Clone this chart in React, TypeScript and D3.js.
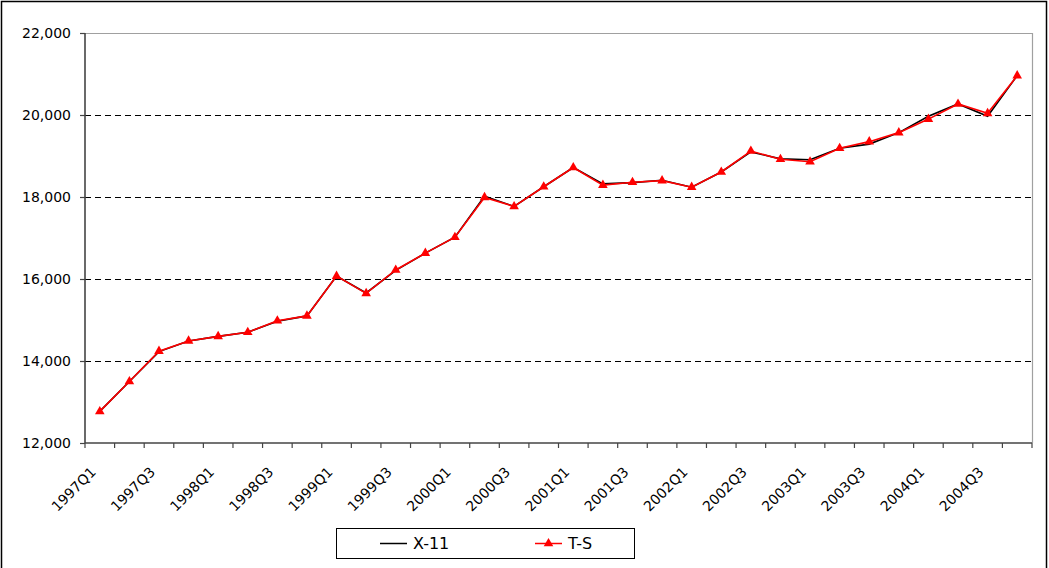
import { useRef, useEffect } from "react";
import * as d3 from "d3";

const quarters = [
  "1997Q1", "1997Q2", "1997Q3", "1997Q4",
  "1998Q1", "1998Q2", "1998Q3", "1998Q4",
  "1999Q1", "1999Q2", "1999Q3", "1999Q4",
  "2000Q1", "2000Q2", "2000Q3", "2000Q4",
  "2001Q1", "2001Q2", "2001Q3", "2001Q4",
  "2002Q1", "2002Q2", "2002Q3", "2002Q4",
  "2003Q1", "2003Q2", "2003Q3", "2003Q4",
  "2004Q1", "2004Q2", "2004Q3", "2004Q4",
];

const x11Values = [
  12770, 13500, 14230, 14490, 14600, 14700, 14970, 15100,
  16070, 15660, 16210, 16630, 17020, 18020, 17770, 18250,
  18720, 18320, 18350, 18410, 18240, 18610, 19100, 18930,
  18910, 19190, 19290, 19570, 19970, 20270, 19970, 20960,
];

const tsValues = [
  12770, 13500, 14240, 14490, 14600, 14700, 14980, 15100,
  16070, 15650, 16220, 16630, 17020, 17990, 17770, 18250,
  18720, 18290, 18360, 18400, 18240, 18610, 19120, 18920,
  18860, 19190, 19350, 19570, 19900, 20270, 20040, 20960,
];

const yTicks = [12000, 14000, 16000, 18000, 20000, 22000];
const gridValues = [14000, 16000, 18000, 20000];

const seriesNames = ["X-11", "T-S"];

export default function App() {
  const svgRef = useRef(null);

  useEffect(() => {
    const W = 1049, H = 568;
    const plot = { left: 85, top: 33, right: 1032, bottom: 443 };
    const font = "DejaVu Sans, Verdana, sans-serif";

    const svg = d3.select(svgRef.current).attr("width", W).attr("height", H);

    // frame
    svg.append("rect")
      .attr("x", 1.5).attr("y", 1.5)
      .attr("width", 1045).attr("height", 600)
      .attr("fill", "#fff")
      .attr("stroke", "#000")
      .attr("stroke-width", 1.5);

    const xScale = d3.scaleBand().domain(quarters).range([plot.left, plot.right]);
    const yScale = d3.scaleLinear().domain([12000, 22000]).range([plot.bottom, plot.top]);
    const cx = (q) => xScale(q) + xScale.bandwidth() / 2;

    // gridlines
    svg.append("g")
      .attr("shape-rendering", "crispEdges")
      .selectAll("line")
      .data(gridValues)
      .join("line")
      .attr("x1", plot.left).attr("x2", plot.right)
      .attr("y1", (d) => yScale(d) + 0.5).attr("y2", (d) => yScale(d) + 0.5)
      .attr("stroke", "#000")
      .attr("stroke-width", 1)
      .attr("stroke-dasharray", "6,4");

    // top and right border
    svg.append("path")
      .attr("d", `M${plot.left},${plot.top + 0.5}H${plot.right + 0.5}V${plot.bottom}`)
      .attr("fill", "none")
      .attr("stroke", "#a0a0a0")
      .attr("stroke-width", 1.2);

    // y axis
    const yAxis = svg.append("g");
    yAxis.append("line")
      .attr("x1", plot.left).attr("x2", plot.left)
      .attr("y1", plot.top).attr("y2", plot.bottom)
      .attr("stroke", "#444").attr("stroke-width", 1.6);
    yAxis.selectAll("line.tick")
      .data(yTicks)
      .join("line")
      .attr("class", "tick")
      .attr("x1", plot.left - 5).attr("x2", plot.left)
      .attr("y1", (d) => yScale(d) + 0.5).attr("y2", (d) => yScale(d) + 0.5)
      .attr("stroke", "#444").attr("stroke-width", 1.2);
    yAxis.selectAll("text")
      .data(yTicks)
      .join("text")
      .attr("x", plot.left - 14)
      .attr("y", (d) => yScale(d))
      .attr("dy", "0.36em")
      .attr("text-anchor", "end")
      .attr("font-family", font)
      .attr("font-size", 14)
      .attr("fill", "#000")
      .text((d) => d3.format(",")(d));

    // x axis
    const xAxis = svg.append("g");
    xAxis.append("line")
      .attr("x1", plot.left).attr("x2", plot.right)
      .attr("y1", plot.bottom).attr("y2", plot.bottom)
      .attr("stroke", "#444").attr("stroke-width", 1.6);
    const bounds = quarters.map((q) => xScale(q)).concat([plot.right]);
    xAxis.selectAll("line.tick")
      .data(bounds)
      .join("line")
      .attr("class", "tick")
      .attr("x1", (d) => d).attr("x2", (d) => d)
      .attr("y1", plot.bottom).attr("y2", plot.bottom + 5)
      .attr("stroke", "#444").attr("stroke-width", 1.2);
    xAxis.selectAll("text")
      .data(quarters.filter((q, i) => i % 2 === 0))
      .join("text")
      .attr("transform", (d) => `translate(${cx(d) - 3},${plot.bottom + 30}) rotate(-45)`)
      .attr("text-anchor", "end")
      .attr("font-family", font)
      .attr("font-size", 14)
      .attr("fill", "#000")
      .text((d) => d);

    // lines
    const line = d3.line()
      .x((d, i) => cx(quarters[i]))
      .y((d) => yScale(d));

    svg.append("path")
      .datum(x11Values)
      .attr("fill", "none")
      .attr("stroke", "#000")
      .attr("stroke-width", 1.6)
      .attr("d", line);

    svg.append("path")
      .datum(tsValues)
      .attr("fill", "none")
      .attr("stroke", "#ff0000")
      .attr("stroke-width", 1.6)
      .attr("d", line);

    const tri = d3.symbol().type(d3.symbolTriangle).size(40);
    svg.append("g")
      .selectAll("path")
      .data(tsValues)
      .join("path")
      .attr("transform", (d, i) => `translate(${cx(quarters[i])},${yScale(d)})`)
      .attr("d", tri)
      .attr("fill", "#ff0000");

    // legend
    const legend = svg.append("g");
    legend.append("rect")
      .attr("x", 336.5).attr("y", 528.5)
      .attr("width", 298).attr("height", 30)
      .attr("fill", "#fff")
      .attr("stroke", "#000")
      .attr("stroke-width", 1);
    const items = [
      { name: seriesNames[0], x: 380, color: "#000", marker: false },
      { name: seriesNames[1], x: 535, color: "#ff0000", marker: true },
    ];
    items.forEach((it) => {
      legend.append("line")
        .attr("x1", it.x).attr("x2", it.x + 27)
        .attr("y1", 543.5).attr("y2", 543.5)
        .attr("stroke", it.color)
        .attr("stroke-width", 1.5);
      if (it.marker) {
        legend.append("path")
          .attr("transform", `translate(${it.x + 13.5},543.5)`)
          .attr("d", tri)
          .attr("fill", it.color);
      }
      legend.append("text")
        .attr("x", it.x + 33)
        .attr("y", 543.5)
        .attr("dy", "0.36em")
        .attr("font-family", font)
        .attr("font-size", 16)
        .attr("fill", "#000")
        .text(it.name);
    });

    return () => {
      d3.select(svgRef.current).selectAll("*").remove();
    };
  }, []);

  return (
    <div style={{ position: "absolute", left: 0, top: 0 }}>
      <svg ref={svgRef} style={{ display: "block" }}></svg>
    </div>
  );
}
